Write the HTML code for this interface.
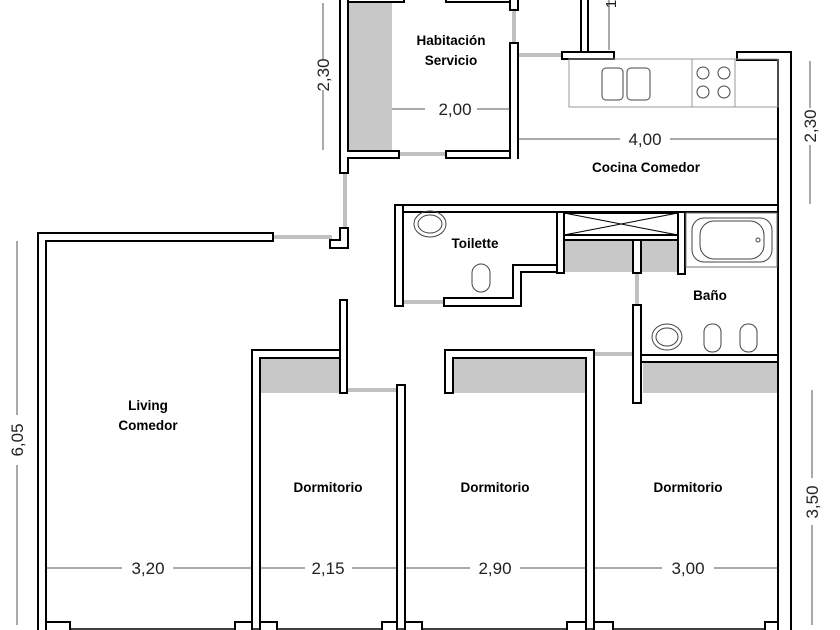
<!DOCTYPE html>
<html><head><meta charset="utf-8"><style>
html,body{margin:0;padding:0;background:#fff;width:840px;height:630px;overflow:hidden}
svg{display:block}
.w{fill:#fff;stroke:#000;stroke-width:2}
.g{fill:#c8c8c8}
.d{stroke:#c0c0c0;stroke-width:4}
.dim{stroke:#555;stroke-width:1}
.lb{font-family:"Liberation Sans",sans-serif;font-weight:bold;font-size:13.5px;text-anchor:middle}
.dn{font-family:"Liberation Sans",sans-serif;font-size:17px;text-anchor:middle;fill:#222}
.fx{fill:none;stroke:#444;stroke-width:1}
</style></head><body>
<svg width="840" height="630" viewBox="0 0 840 630" xmlns="http://www.w3.org/2000/svg">
<rect class="g" x="348" y="0" width="44" height="151"/>
<rect class="g" x="260" y="358" width="80" height="35"/>
<rect class="g" x="453" y="358" width="133" height="35"/>
<rect class="g" x="643" y="362" width="135" height="31"/>
<rect class="g" x="564" y="240" width="69" height="32"/>
<rect class="g" x="641" y="240" width="37" height="32"/>
<line class="d" x1="399" y1="154" x2="446" y2="154"/>
<line class="d" x1="514" y1="10" x2="514" y2="43"/>
<line class="d" x1="518" y1="55" x2="562" y2="55"/>
<line class="d" x1="345" y1="173" x2="345" y2="228"/>
<line class="d" x1="273" y1="237" x2="332" y2="237"/>
<line class="d" x1="403" y1="302" x2="444" y2="302"/>
<line class="d" x1="637" y1="272" x2="637" y2="305"/>
<line class="d" x1="347" y1="390" x2="397" y2="390"/>
<line class="d" x1="594" y1="354" x2="636" y2="354"/>
<rect class="w" x="340" y="-5" width="8" height="178"/>
<rect class="w" x="340" y="151" width="59" height="7"/>
<rect class="w" x="446" y="151" width="72" height="7"/>
<rect class="w" x="510" y="43" width="8" height="115"/>
<rect class="w" x="510" y="-5" width="8" height="15"/>
<rect class="w" x="348" y="-5" width="56" height="7"/>
<rect class="w" x="446" y="-5" width="64" height="7"/>
<rect fill="#fff" x="341" y="150" width="6" height="9"/>
<rect fill="#fff" x="511" y="150" width="6" height="9"/>
<path class="w" d="M340,228 H348 V248 H330 V240 H340 Z"/>
<path class="w" d="M38,640 V233 H273 V241 H46 V640 Z"/>
<rect class="w" x="581" y="-5" width="7" height="57"/>
<line class="dim" x1="609" y1="0" x2="609" y2="50"/>
<text class="dn" transform="translate(616,4) rotate(-90)" style="font-size:15px">1</text>
<rect class="w" x="562" y="52" width="52" height="7"/>
<path class="w" d="M737,52 H791 V640 H778 V60 H737 Z"/>
<rect x="569" y="59" width="209" height="48" fill="none" stroke="#999" stroke-width="1"/>
<line x1="692" y1="59" x2="692" y2="107" stroke="#999"/>
<line x1="735" y1="59" x2="735" y2="107" stroke="#999"/>
<rect class="fx" x="602" y="68" width="21" height="32" rx="4"/>
<rect class="fx" x="627" y="68" width="23" height="32" rx="4"/>
<circle class="fx" cx="703" cy="73" r="6"/><circle class="fx" cx="724" cy="73" r="6"/>
<circle class="fx" cx="703" cy="92" r="6"/><circle class="fx" cx="724" cy="92" r="6"/>
<rect class="w" x="395" y="205" width="383" height="7"/>
<rect class="w" x="395" y="205" width="8" height="101"/>
<rect fill="#fff" x="396" y="206" width="6" height="6"/>
<rect class="w" x="557" y="212" width="7" height="61"/>
<path class="w" d="M513,265 H557 V272 H521 V306 H444 V298 H513 Z"/>
<rect class="w" x="564" y="213" width="114" height="22"/>
<line x1="564" y1="213" x2="678" y2="235" stroke="#000" stroke-width="1"/>
<line x1="564" y1="235" x2="678" y2="213" stroke="#000" stroke-width="1"/>
<rect class="w" x="564" y="235" width="114" height="5"/>
<rect class="w" x="633" y="240" width="8" height="33"/>
<rect class="w" x="678" y="212" width="7" height="62"/>
<rect x="686" y="213" width="91" height="54" fill="none" stroke="#777"/>
<rect class="fx" x="692" y="218" width="80" height="44" rx="12"/>
<rect class="fx" x="700" y="221" width="64" height="38" rx="14"/>
<circle class="fx" cx="758" cy="240" r="2"/>
<ellipse class="fx" cx="430" cy="224" rx="16" ry="13"/>
<ellipse class="fx" cx="430" cy="224" rx="12" ry="9"/>
<rect class="fx" x="472" y="264" width="18" height="28" rx="9"/>
<rect class="w" x="633" y="305" width="8" height="98"/>
<rect class="w" x="641" y="355" width="137" height="7"/>
<ellipse class="fx" cx="667" cy="337" rx="15" ry="13"/>
<ellipse class="fx" cx="667" cy="337" rx="11" ry="9"/>
<rect class="fx" x="704" y="324" width="17" height="28" rx="8"/>
<rect class="fx" x="740" y="324" width="17" height="28" rx="8"/>
<path class="w" d="M252,640 V350 H340 V358 H260 V640 Z"/>
<rect class="w" x="340" y="300" width="7" height="93"/>
<rect class="w" x="397" y="385" width="8" height="255"/>
<path class="w" d="M445,393 V350 H594 V640 H586 V358 H453 V393 Z"/>
<line x1="46" y1="629" x2="778" y2="629" stroke="#000" stroke-width="1.5"/>
<g class="w">
<rect x="46" y="622" width="24" height="15"/><rect x="235" y="622" width="17" height="15"/>
<rect x="260" y="622" width="17" height="15"/><rect x="382" y="622" width="15" height="15"/>
<rect x="405" y="622" width="17" height="15"/><rect x="567" y="622" width="19" height="15"/>
<rect x="594" y="622" width="19" height="15"/><rect x="765" y="622" width="13" height="15"/>
</g>
<g class="dim">
<line x1="323" y1="3" x2="323" y2="60"/><line x1="323" y1="90" x2="323" y2="150"/>
<line x1="392" y1="109" x2="425" y2="109"/><line x1="477" y1="109" x2="510" y2="109"/>
<line x1="519" y1="139" x2="620" y2="139"/><line x1="670" y1="139" x2="777" y2="139"/>
<line x1="810" y1="61" x2="810" y2="108"/><line x1="810" y1="145" x2="810" y2="204"/>
<line x1="17" y1="241" x2="17" y2="415"/><line x1="17" y1="465" x2="17" y2="625"/>
<line x1="812" y1="390" x2="812" y2="478"/><line x1="812" y1="525" x2="812" y2="625"/>
<line x1="47" y1="568" x2="122" y2="568"/><line x1="173" y1="568" x2="251" y2="568"/>
<line x1="261" y1="568" x2="305" y2="568"/><line x1="352" y1="568" x2="396" y2="568"/>
<line x1="406" y1="568" x2="470" y2="568"/><line x1="520" y1="568" x2="585" y2="568"/>
<line x1="595" y1="568" x2="662" y2="568"/><line x1="714" y1="568" x2="777" y2="568"/>
</g>
<text class="dn" x="455" y="115">2,00</text>
<text class="dn" x="645" y="145">4,00</text>
<text class="dn" x="148" y="574">3,20</text>
<text class="dn" x="328" y="574">2,15</text>
<text class="dn" x="495" y="574">2,90</text>
<text class="dn" x="688" y="574">3,00</text>
<text class="dn" transform="translate(329,75) rotate(-90)">2,30</text>
<text class="dn" transform="translate(816,126) rotate(-90)">2,30</text>
<text class="dn" transform="translate(23,440) rotate(-90)">6,05</text>
<text class="dn" transform="translate(818,502) rotate(-90)">3,50</text>
<text class="lb" x="451" y="45">Habitación</text>
<text class="lb" x="451" y="65">Servicio</text>
<text class="lb" x="646" y="172">Cocina Comedor</text>
<text class="lb" x="475" y="248">Toilette</text>
<text class="lb" x="710" y="300">Baño</text>
<text class="lb" x="148" y="410">Living</text>
<text class="lb" x="148" y="430">Comedor</text>
<text class="lb" x="328" y="492">Dormitorio</text>
<text class="lb" x="495" y="492">Dormitorio</text>
<text class="lb" x="688" y="492">Dormitorio</text>
</svg>
</body></html>
